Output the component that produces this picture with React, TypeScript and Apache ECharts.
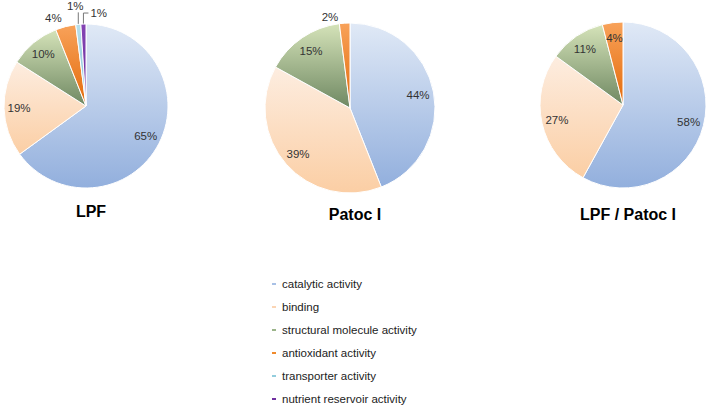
import React, { useEffect, useRef } from 'react';
import * as echarts from 'echarts';

const categories = [
  'catalytic activity',
  'binding',
  'structural molecule activity',
  'antioxidant activity',
  'transporter activity',
  'nutrient reservoir activity',
];
const lpfValues = [65, 19, 10, 4, 1, 1];
const patocValues = [44, 39, 15, 2, 0, 0];
const ratioValues = [58, 27, 11, 4, 0, 0];
const pieTitles = ['LPF', 'Patoc I', 'LPF / Patoc I'];
const pieValues = [lpfValues, patocValues, ratioValues];

// styling / layout (not data)
const gradientStops: [string, string][] = [
  ['#e0e9f6', '#92afdd'],
  ['#fdede0', '#fbcea4'],
  ['#d5e3b9', '#6f8862'],
  ['#f8a25a', '#e36a0a'],
  ['#b9dfea', '#7fc1d6'],
  ['#8444b4', '#6a2c98'],
];
const legendColors = ['#a9c1e6', '#fbd5b5', '#9bb48a', '#f08a2c', '#93cddd', '#7030a0'];
const layouts = [
  { cx: 86, cy: 106, r: 82, titleTop: 198 },
  { cx: 350, cy: 108, r: 85, titleTop: 201 },
  { cx: 623, cy: 105, r: 83, titleTop: 201 },
];
// labels placed outside the pie, keyed "pieIndex-categoryIndex"
const outsideLabels: Record<string, boolean> = {
  '0-3': true,
  '0-4': true,
  '0-5': true,
  '1-3': false,
};

const labelFont = {
  fontFamily: 'Arial, "Liberation Sans", sans-serif',
  fontSize: 11.5,
  color: '#333333',
  textBorderWidth: 0,
  textShadowBlur: 0,
};

function lpfLabelLayout(params: any) {
  const pts = params.labelLinePoints;
  if (!pts || !pts[0]) return {};
  const p0 = pts[0];
  const ci = params.dataIndex;
  if (ci === 3) {
    return {
      x: p0[0] - 4,
      y: p0[1] - 3,
      align: 'right',
      verticalAlign: 'bottom',
      labelLinePoints: [p0, p0, p0],
    };
  }
  if (ci === 4) {
    return {
      x: p0[0] - 3,
      y: p0[1] - 12,
      align: 'center',
      verticalAlign: 'bottom',
      labelLinePoints: [p0, [p0[0], p0[1] - 12], [p0[0], p0[1] - 12]],
    };
  }
  if (ci === 5) {
    return {
      x: p0[0] + 7,
      y: p0[1] - 11,
      align: 'left',
      verticalAlign: 'middle',
      labelLinePoints: [p0, [p0[0], p0[1] - 11], [p0[0] + 5, p0[1] - 11]],
    };
  }
  return {};
}

export default function App() {
  const ref = useRef<HTMLDivElement>(null);
  useEffect(() => {
    if (!ref.current) return;
    const chart = echarts.init(ref.current, undefined, { renderer: 'svg' });
    const series: any[] = [];
    pieValues.forEach((vals, pi) => {
      const L = layouts[pi];
      const data = categories
        .map((name, ci) => ({
          name,
          value: vals[ci],
          itemStyle: {
            color: new echarts.graphic.LinearGradient(0, 0, 0, 1, [
              { offset: 0, color: gradientStops[ci][0] },
              { offset: 1, color: gradientStops[ci][1] },
            ]),
          },
        }))
        .filter((d) => d.value > 0);
      series.push({
        type: 'pie',
        name: pieTitles[pi],
        center: [L.cx, L.cy],
        radius: L.r,
        startAngle: 90,
        clockwise: true,
        silent: true,
        label: { show: false },
        labelLine: { show: false },
        itemStyle: { borderColor: '#ffffff', borderWidth: 1 },
        emphasis: { disabled: true },
        data,
      });
    });
    pieValues.forEach((vals, pi) => {
      const L = layouts[pi];
      const data = categories
        .map((name, ci) => {
          const key = `${pi}-${ci}`;
          const out = key in outsideLabels;
          return {
            name,
            value: vals[ci],
            label: out
              ? { position: 'outside', distanceToLabelLine: 2, ...labelFont }
              : { position: 'inside', ...labelFont },
            labelLine: out
              ? { show: outsideLabels[key], length: 6, length2: 4, lineStyle: { color: '#777777', width: 1 } }
              : { show: false },
          };
        })
        .filter((d) => d.value > 0);
      series.push({
        type: 'pie',
        name: pieTitles[pi] + ' labels',
        center: [L.cx, L.cy],
        radius: [L.r * 0.56, L.r],
        startAngle: 90,
        clockwise: true,
        silent: true,
        avoidLabelOverlap: false,
        itemStyle: { color: 'rgba(0,0,0,0)', borderWidth: 0 },
        emphasis: { disabled: true },
        label: { show: true, formatter: (p: any) => `${p.value}%`, ...labelFont },
        labelLayout: pi === 0 ? lpfLabelLayout : undefined,
        data,
      });
    });
    chart.setOption({
      animation: false,
      backgroundColor: '#ffffff',
      title: pieTitles.map((t, i) => ({
        text: t,
        left: layouts[i].cx,
        top: layouts[i].titleTop,
        textAlign: 'center',
        textStyle: {
          fontFamily: 'Arial, "Liberation Sans", sans-serif',
          fontSize: 16,
          fontWeight: 'bold',
          color: '#000',
        },
      })),
      legend: {
        orient: 'vertical',
        left: 270,
        top: 277,
        height: 160,
        padding: 0,
        icon: 'rect',
        itemWidth: 6,
        itemHeight: 4,
        itemGap: 9,
        selectedMode: false,
        textStyle: { ...labelFont, color: '#222222', lineHeight: 14 },
        data: categories.map((name, i) => ({ name, itemStyle: { color: legendColors[i] } })),
      },
      series,
    });
    return () => chart.dispose();
  }, []);
  return (
    <div
      ref={ref}
      style={{ position: 'fixed', left: 0, top: 0, width: 708, height: 406 }}
    />
  );
}
